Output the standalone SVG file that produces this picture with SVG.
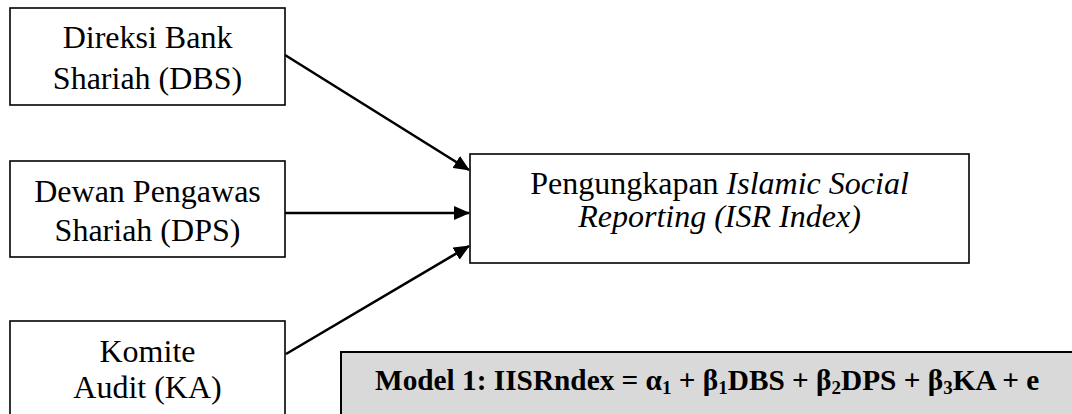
<svg xmlns="http://www.w3.org/2000/svg" width="1072" height="414" viewBox="0 0 1072 414">
<style>
.box{fill:#fff;stroke:#000;stroke-width:1.6}
.t{font-family:"Liberation Serif","Times New Roman",serif;font-size:32px;fill:#000;text-anchor:middle}
.i{font-style:italic}
.m{font-family:"Liberation Serif","Times New Roman",serif;font-size:29.3px;font-weight:bold;fill:#000}
.sub{font-size:19px}
.c{stroke:#000;stroke-width:2.6;fill:none;marker-end:url(#ah)}
</style>
<defs>
<marker id="ah" markerWidth="16" markerHeight="14" refX="15" refY="7" orient="auto" markerUnits="userSpaceOnUse">
<path d="M0,0 L16,7 L0,14 Z" fill="#000"/>
</marker>
</defs>
<rect width="1072" height="414" fill="#fff"/>
<g id="dbs">
<rect class="box" x="10" y="8" width="275" height="97"/>
<text class="t" x="147.5" y="48">Direksi Bank</text>
<text class="t" x="147.5" y="89">Shariah (DBS)</text>
</g>
<g id="dps">
<rect class="box" x="10" y="161" width="275" height="96"/>
<text class="t" x="147.5" y="202">Dewan Pengawas</text>
<text class="t" x="147.5" y="241">Shariah (DPS)</text>
</g>
<g id="ka">
<rect class="box" x="10" y="321" width="275" height="100"/>
<text class="t" x="147.5" y="362">Komite</text>
<text class="t" x="147.5" y="398">Audit (KA)</text>
</g>
<g id="isr">
<rect class="box" x="470" y="154" width="499" height="109"/>
<text class="t" x="719.5" y="194">Pengungkapan <tspan class="i">Islamic Social</tspan></text>
<text class="t i" x="719.5" y="227">Reporting (ISR Index)</text>
</g>
<g id="model">
<rect x="341" y="352" width="740" height="70" fill="#d9d9d9" stroke="#000" stroke-width="2"/>
<text class="m" x="375" y="390">Model 1: IISRndex = α<tspan class="sub" dy="4">1</tspan><tspan dy="-4"> + β</tspan><tspan class="sub" dy="4">1</tspan><tspan dy="-4">DBS + β</tspan><tspan class="sub" dy="4">2</tspan><tspan dy="-4">DPS + β</tspan><tspan class="sub" dy="4">3</tspan><tspan dy="-4">KA + e</tspan></text>
</g>
<g id="connectors">
<line class="c" x1="285" y1="55" x2="469" y2="170"/>
<line class="c" x1="285" y1="213" x2="469" y2="213"/>
<line class="c" x1="286" y1="354" x2="469" y2="246"/>
</g>
</svg>
